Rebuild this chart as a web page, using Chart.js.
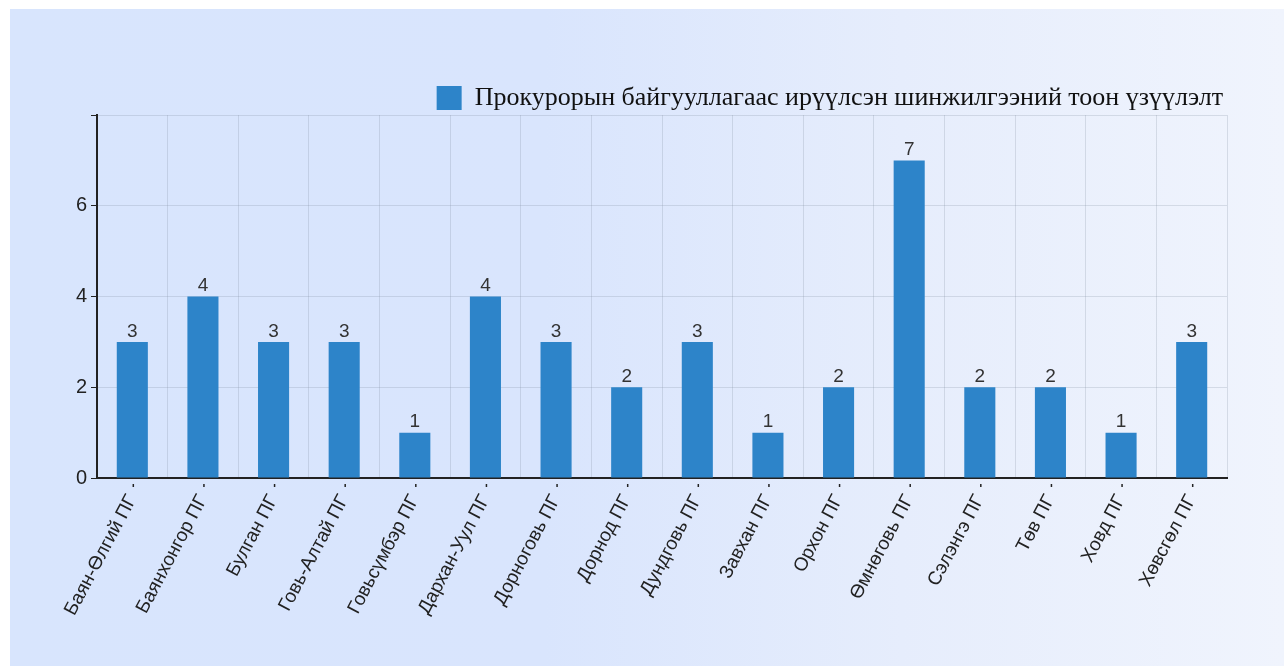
<!DOCTYPE html>
<html>
<head>
<meta charset="utf-8">
<script src="https://cdn.jsdelivr.net/npm/chart.js@4.4.1/dist/chart.umd.min.js"></script>
<style>
  html, body { margin: 0; padding: 0; background: #fff; width: 1284px; height: 666px; overflow: hidden; }
  .panel {
    position: absolute; left: 10px; top: 9px; width: 1274px; height: 657px;
    background: linear-gradient(90deg, #d8e5fd 0%, #d9e5fd 42%, #e6edfc 70%, #f0f4fd 100%);
  }
  .wrap { position: absolute; left: 0; top: 0; width: 1220px; height: 657px; }
</style>
</head>
<body>
<div class="panel">
  <div class="wrap"><canvas id="chart"></canvas></div>
</div>
<script>
const categories = [
  'Баян-Өлгий ПГ', 'Баянхонгор ПГ', 'Булган ПГ', 'Говь-Алтай ПГ', 'Говьсүмбэр ПГ',
  'Дархан-Уул ПГ', 'Дорноговь ПГ', 'Дорнод ПГ', 'Дундговь ПГ', 'Завхан ПГ',
  'Орхон ПГ', 'Өмнөговь ПГ', 'Сэлэнгэ ПГ', 'Төв ПГ', 'Ховд ПГ', 'Хөвсгөл ПГ'
];
const seriesName = 'Прокурорын байгууллагаас ирүүлсэн шинжилгээний тоон үзүүлэлт';
const values = [3, 4, 3, 3, 1, 4, 3, 2, 3, 1, 2, 7, 2, 2, 1, 3];
const yMax = 8;
const yStep = 2;

const barColor = '#2d84c9';
const inkColor = '#222222';

// tighten the gap between the legend and the plot area
const legendGapPlugin = {
  id: 'legendGap',
  beforeInit(chart) {
    const fit = chart.legend.fit;
    chart.legend.fit = function () {
      fit.call(this);
      this.height -= 6;
    };
  }
};

// value labels above bars + small tick dots under the x axis
const extrasPlugin = {
  id: 'extras',
  afterDatasetsDraw(chart) {
    const ctx = chart.ctx;
    const meta = chart.getDatasetMeta(0);
    ctx.save();
    ctx.font = '19px "Liberation Sans", Arial, sans-serif';
    ctx.fillStyle = '#333';
    ctx.textAlign = 'center';
    ctx.textBaseline = 'bottom';
    meta.data.forEach((bar, i) => {
      ctx.fillText(String(values[i]), bar.x, bar.y - 1);
    });
    const xScale = chart.scales.x;
    ctx.strokeStyle = inkColor;
    ctx.lineWidth = 1.5;
    categories.forEach((c, i) => {
      const x = xScale.getPixelForValue(i) + 1;
      ctx.beginPath();
      ctx.moveTo(x, xScale.top + 6);
      ctx.lineTo(x, xScale.top + 9);
      ctx.stroke();
    });
    ctx.restore();
  }
};

new Chart(document.getElementById('chart'), {
  type: 'bar',
  data: {
    labels: categories,
    datasets: [{
      label: seriesName,
      data: values,
      backgroundColor: barColor,
      borderWidth: 0,
      barPercentage: 0.5,
      categoryPercentage: 0.88
    }]
  },
  options: {
    responsive: true,
    maintainAspectRatio: false,
    animation: false,
    layout: { padding: { top: 72, right: 3, left: 0, bottom: 0 } },
    plugins: {
      legend: {
        display: true,
        position: 'top',
        align: 'end',
        labels: {
          boxWidth: 25,
          boxHeight: 24,
          padding: 4,
          color: '#111',
          font: { family: '"Liberation Serif", "Times New Roman", serif', size: 26 }
        }
      },
      tooltip: { enabled: false }
    },
    scales: {
      x: {
        afterFit(scale) { scale.height = 188; },
        border: { color: inkColor, width: 2 },
        grid: { color: 'rgba(120,130,150,0.22)', offset: true, drawTicks: false },
        ticks: {
          color: inkColor,
          padding: 13,
          minRotation: 62,
          maxRotation: 62,
          autoSkip: false,
          font: { family: '"Liberation Sans", Arial, sans-serif', size: 19 }
        }
      },
      y: {
        min: 0,
        max: yMax,
        afterFit(scale) { scale.width = 87; },
        border: { color: inkColor, width: 2 },
        grid: { color: 'rgba(120,130,150,0.22)', tickColor: inkColor, tickLength: 6 },
        ticks: {
          stepSize: yStep,
          color: inkColor,
          padding: 4,
          font: { family: '"Liberation Sans", Arial, sans-serif', size: 20 },
          callback: (v) => (v === yMax ? '' : v)
        }
      }
    }
  },
  plugins: [legendGapPlugin, extrasPlugin]
});
</script>
</body>
</html>
